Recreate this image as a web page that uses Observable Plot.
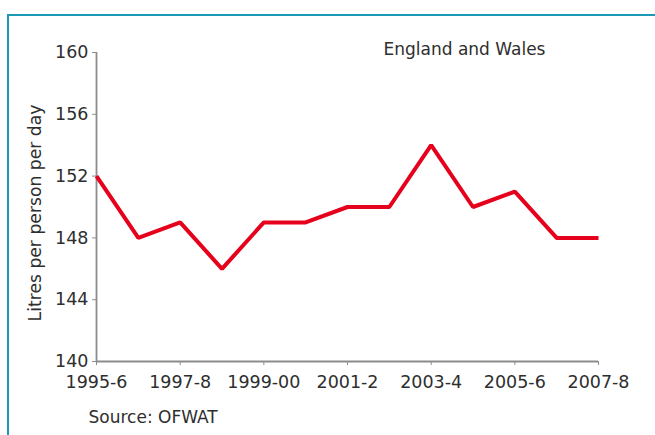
<!DOCTYPE html>
<html>
<head>
<meta charset="utf-8">
<script src="https://cdn.jsdelivr.net/npm/d3@7"></script>
<script src="https://cdn.jsdelivr.net/npm/@observablehq/plot@0.6"></script>
<style>
  html, body { margin: 0; padding: 0; background: #fff; }
  #wrap { position: relative; width: 655px; height: 435px; overflow: hidden; }
  #box {
    position: absolute; left: 7px; top: 14px; width: 660px; height: 440px;
    border-top: 2px solid #1b9ab8; border-left: 2px solid #1b9ab8;
    box-sizing: border-box; pointer-events: none;
  }
  #chart { position: absolute; left: 0; top: 0; }
</style>
</head>
<body>
<div id="wrap">
  <div id="chart"></div>
  <div id="box"></div>
</div>
<script>
// Daily household water use, England and Wales
const years = ["1995-6","1996-7","1997-8","1998-9","1999-00","2000-1","2001-2",
               "2002-3","2003-4","2004-5","2005-6","2006-7","2007-8"];
const litres = [152, 148, 149, 146, 149, 149, 150, 150, 154, 150, 151, 148, 148];
const yTicks = [140, 144, 148, 152, 156, 160];
const xTicks = ["1995-6","1997-8","1999-00","2001-2","2003-4","2005-6","2007-8"];
const title = "England and Wales";
const yLabel = "Litres per person per day";
const source = "Source: OFWAT";

const rows = years.map((year, i) => ({year, litres: litres[i]}));
const axisGray = "#8c8c8c";
const ink = "#2e2e2e";

const W = 655, H = 435;
const mLeft = 96, mRight = 57, mTop = 52, mBottom = 74;

const chart = Plot.plot({
  width: W,
  height: H,
  marginLeft: mLeft,
  marginRight: mRight,
  marginTop: mTop,
  marginBottom: mBottom,
  style: {fontFamily: "'DejaVu Sans', Verdana, sans-serif", fontSize: "17px", background: "transparent"},
  // unrounded point scale so the end points sit exactly on the frame edges
  x: {type: "point", domain: years, padding: 0, round: false},
  y: {domain: [140, 160]},
  marks: [
    Plot.ruleX([years[0]], {stroke: axisGray, strokeWidth: 1.8}),
    Plot.ruleY([140], {stroke: axisGray, strokeWidth: 1.8}),
    Plot.axisY({ticks: yTicks, tickSize: 4, tickPadding: 4, stroke: axisGray, fill: ink, label: null, fontSize: 17.5}),
    Plot.axisX({ticks: xTicks, tickSize: 4, tickPadding: 10, stroke: axisGray, fill: ink, label: null, fontSize: 17.5}),
    Plot.lineY(rows, {x: "year", y: "litres", stroke: "#e5001b", strokeWidth: 4, strokeLinejoin: "miter", strokeLinecap: "butt"}),
    Plot.text([title], {frameAnchor: "top-left", textAnchor: "start", lineAnchor: "middle", dx: 287, dy: -3, fill: ink, fontSize: 17}),
    Plot.text([yLabel], {frameAnchor: "left", rotate: -90, textAnchor: "middle", lineAnchor: "middle", dx: -61, dy: 6, fill: ink, fontSize: 17.2}),
    Plot.text([source], {frameAnchor: "bottom-left", textAnchor: "start", lineAnchor: "middle", dx: -8, dy: 56, fill: ink, fontSize: 17})
  ]
});
document.getElementById("chart").appendChild(chart);
</script>
</body>
</html>
